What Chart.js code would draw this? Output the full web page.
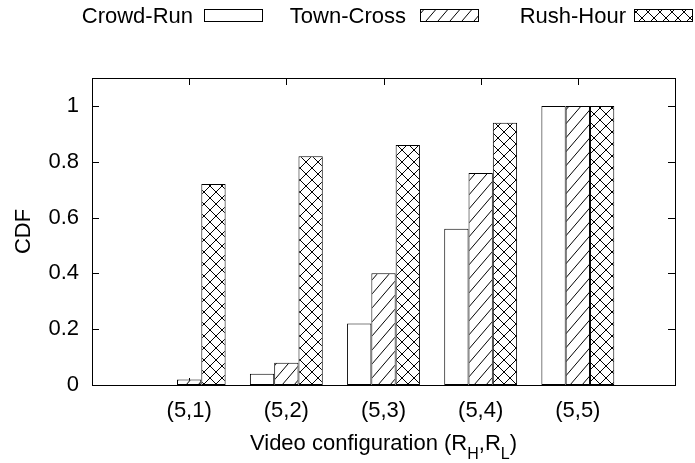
<!DOCTYPE html>
<html>
<head>
<meta charset="utf-8">
<script src="https://cdn.jsdelivr.net/npm/chart.js@4/dist/chart.umd.min.js"></script>
<style>
  html, body { margin: 0; padding: 0; background: #fff; }
  canvas { display: block; }
</style>
</head>
<body>
<canvas id="cdf" width="695" height="463"></canvas>
<script>
// Configurations (R_H, R_L) on the x axis
const categories = ['(5,1)', '(5,2)', '(5,3)', '(5,4)', '(5,5)'];
// CDF value per configuration for each video sequence
const crowdRun  = [0.00, 0.04, 0.22, 0.56, 1.00];
const townCross = [0.02, 0.08, 0.40, 0.76, 1.00];
const rushHour  = [0.72, 0.82, 0.86, 0.94, 1.00];
const seriesNames = ['Crowd-Run', 'Town-Cross', 'Rush-Hour'];
const yTickValues = [0, 0.2, 0.4, 0.6, 0.8, 1];
const yTitle = 'CDF';
// x title pieces: [text, isSubscript]
const xTitleParts = [['Video configuration (R', false], ['H', true], [',R', false], ['L', true], [')', false]];

const FONT = '"Liberation Sans", Arial, Helvetica, sans-serif';

// ---- fill patterns -------------------------------------------------------
function makeTile(w, h, draw) {
  const c = document.createElement('canvas');
  c.width = w; c.height = h;
  const g = c.getContext('2d');
  g.fillStyle = '#fff';
  g.fillRect(0, 0, w, h);
  g.strokeStyle = '#000';
  g.lineWidth = 1;
  draw(g, w, h);
  return c;
}
const ctx = document.getElementById('cdf').getContext('2d');

const plainFill = '#ffffff';
const hatchTile = makeTile(12, 14, (g, w, h) => {
  g.beginPath();
  for (let k = -1; k <= 1; k++) {
    g.moveTo(k * w - w * 0.1, h + h * 0.1);
    g.lineTo(k * w + w + w * 0.1, -h * 0.1);
  }
  g.stroke();
});
const crossTile = makeTile(12, 12, (g, w, h) => {
  g.beginPath();
  g.moveTo(-1, -1); g.lineTo(w + 1, h + 1);
  g.moveTo(w + 1, -1); g.lineTo(-1, h + 1);
  g.stroke();
  g.fillStyle = '#000';
  g.fillRect(w / 2 - 1, h / 2 - 1, 2, 2);
  g.fillRect(-1, -1, 2, 2); g.fillRect(w - 1, -1, 2, 2);
  g.fillRect(-1, h - 1, 2, 2); g.fillRect(w - 1, h - 1, 2, 2);
});
const fills = [plainFill, ctx.createPattern(hatchTile, 'repeat'), ctx.createPattern(crossTile, 'repeat')];

// blank slots at both ends give the empty margins left and right of the groups
const axisLabels = [''].concat(categories, ['']);
const pad = arr => [null].concat(arr, [null]);
const seriesValues = [crowdRun, townCross, rushHour];

const datasets = seriesValues.map((vals, i) => ({
  label: seriesNames[i],
  data: pad(vals),
  backgroundColor: fills[i],
  borderColor: '#000',
  borderWidth: 1,
  borderSkipped: false,
  categoryPercentage: 0.75,
  barPercentage: 1.0
}));

// frame with inward ticks, gnuplot style
const framePlugin = {
  id: 'frame',
  beforeDatasetsDraw(chart) {
    const { ctx: c, chartArea: a, scales } = chart;
    const L = 7;
    c.save();
    c.strokeStyle = '#000';
    c.lineWidth = 1;
    c.beginPath();
    yTickValues.forEach(v => {
      const y = Math.round(scales.y.getPixelForValue(v)) + 0.5;
      c.moveTo(a.left, y); c.lineTo(a.left + L, y);
      c.moveTo(a.right, y); c.lineTo(a.right - L, y);
    });
    categories.forEach((_, i) => {
      const x = Math.round(scales.x.getPixelForValue(i + 1)) + 0.5;
      c.moveTo(x, a.top); c.lineTo(x, a.top + L);
      c.moveTo(x, a.bottom); c.lineTo(x, a.bottom - L);
    });
    c.stroke();
    c.restore();
  },
  afterDatasetsDraw(chart) {
    const { ctx: c, chartArea: a } = chart;
    c.save();
    c.strokeStyle = '#000';
    c.lineWidth = 1;
    c.strokeRect(a.left + 0.5, a.top + 0.5, a.right - a.left, a.bottom - a.top);
    c.restore();
  }
};

// key along the top: text first, then a sample box
const keyPlugin = {
  id: 'key',
  afterDraw(chart) {
    const c = chart.ctx;
    const textRight = [193, 406, 626];
    const boxLeft = [204, 420, 634];
    const boxW = 58, boxTop = 9.5, boxH = 12;
    c.save();
    c.font = '22px ' + FONT;
    c.fillStyle = '#000';
    c.textAlign = 'right';
    c.textBaseline = 'alphabetic';
    chart.data.datasets.forEach((ds, i) => {
      c.fillStyle = '#000';
      c.fillText(ds.label, textRight[i], 23);
      c.fillStyle = ds.backgroundColor;
      c.fillRect(boxLeft[i] + 0.5, boxTop, boxW, boxH);
      c.strokeStyle = '#000';
      c.lineWidth = 1;
      c.strokeRect(boxLeft[i] + 0.5, boxTop, boxW, boxH);
    });
    c.restore();
  }
};

// x axis title with subscripts
const xTitlePlugin = {
  id: 'xTitle',
  afterDraw(chart) {
    const c = chart.ctx;
    const a = chart.chartArea;
    const mainFont = '22px ' + FONT;
    const subFont = '16px ' + FONT;
    c.save();
    let total = 0;
    xTitleParts.forEach(([t, sub]) => {
      c.font = sub ? subFont : mainFont;
      total += c.measureText(t).width;
    });
    let x = (a.left + a.right) / 2 - total / 2;
    const base = 450;
    c.fillStyle = '#000';
    c.textAlign = 'left';
    c.textBaseline = 'alphabetic';
    xTitleParts.forEach(([t, sub]) => {
      c.font = sub ? subFont : mainFont;
      c.fillText(t, x, sub ? base + 9 : base);
      x += c.measureText(t).width;
    });
    c.restore();
  }
};

new Chart(ctx, {
  type: 'bar',
  data: { labels: axisLabels, datasets },
  options: {
    responsive: false,
    animation: false,
    events: [],
    layout: { padding: { left: 0, top: 78, right: 20, bottom: 0 } },
    plugins: { legend: { display: false }, tooltip: { enabled: false } },
    scales: {
      x: {
        type: 'category',
        offset: false,
        grid: { display: false, drawTicks: false },
        border: { display: false },
        ticks: {
          color: '#000',
          font: { family: FONT, size: 22 },
          padding: 13,
          maxRotation: 0,
          autoSkip: false
        },
        afterFit(scale) { scale.height = 78; }
      },
      y: {
        min: 0,
        max: 1.1,
        grid: { display: false, drawTicks: false },
        border: { display: false },
        afterBuildTicks(scale) { scale.ticks = yTickValues.map(v => ({ value: v })); },
        ticks: {
          color: '#000',
          font: { family: FONT, size: 22 },
          padding: 13,
          callback: v => String(v)
        },
        title: {
          display: true,
          text: yTitle,
          color: '#000',
          font: { family: FONT, size: 22 },
          padding: { top: 11, bottom: 0 }
        },
        afterFit(scale) { scale.width = 92; }
      }
    }
  },
  plugins: [framePlugin, keyPlugin, xTitlePlugin]
});
</script>
</body>
</html>
